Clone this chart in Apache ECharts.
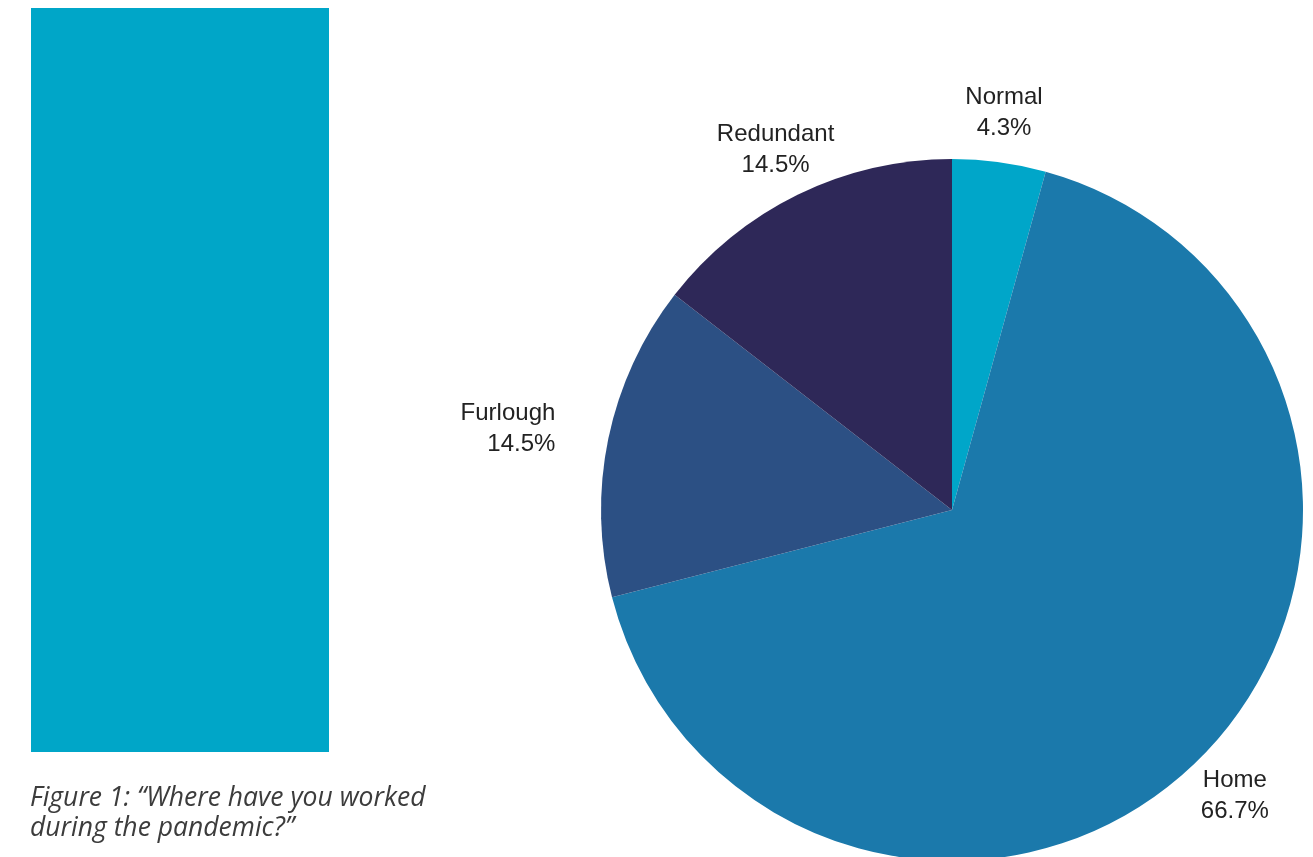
<!DOCTYPE html>
<html>
<head>
<meta charset="utf-8">
<title>Where have you worked during the pandemic?</title>
<script src="https://cdn.jsdelivr.net/npm/echarts@6/dist/echarts.min.js"></script>
<style>
  html, body { margin: 0; padding: 0; background: #ffffff; }
  #chart { width: 1313px; height: 857px; }
</style>
</head>
<body>
<div id="chart"></div>
<script>
// Survey answers, clockwise from 12 o'clock
const categories = ['Normal', 'Home', 'Furlough', 'Redundant'];
const shares = [4.3, 66.7, 14.5, 14.5];           // percent of respondents
const sliceColors = ['#00a6c9', '#1b79ab', '#2c5084', '#2e2858'];
const labelNudgeX = [-7, -3, 1, 5];               // fine horizontal placement of slice labels
const caption = 'Figure 1: \u201cWhere have you worked\nduring the pandemic?\u201d';

// Mid-angle of each slice (degrees clockwise from the top)
const total = shares.reduce((a, b) => a + b, 0);
const midAngles = [];
let acc = 0;
shares.forEach(v => { midAngles.push((acc + v / 2) / total * 360); acc += v; });

const chart = echarts.init(document.getElementById('chart'), null, { renderer: 'canvas' });

chart.setOption({
  backgroundColor: '#ffffff',
  animation: false,
  graphic: [
    {
      type: 'rect',
      shape: { x: 31, y: 8, width: 298, height: 744 },
      style: { fill: '#00a6c8' },
      silent: true
    },
    {
      type: 'text',
      x: 30, y: 783,
      style: {
        text: caption,
        fill: '#3c3c3c',
        font: 'italic 26.5px "Open Sans", sans-serif',
        lineHeight: 30
      },
      silent: true
    }
  ],
  series: [{
    type: 'pie',
    center: [952, 510],
    radius: [0, 351],
    startAngle: 90,
    clockwise: true,
    avoidLabelOverlap: false,
    itemStyle: { borderWidth: 0 },
    label: {
      show: true,
      position: 'outside',
      formatter: p => p.name + '\n' + p.value.toFixed(1) + '%',
      fontFamily: '"Liberation Sans", Arial, sans-serif',
      fontSize: 24,
      lineHeight: 31,
      color: '#222222',
      align: 'center'
    },
    labelLine: { show: false, length: 50, length2: 0 },
    // centre labels on their anchor unless the slice points sideways
    labelLayout: p => {
      const a = midAngles[p.dataIndex] * Math.PI / 180;
      const out = { dx: labelNudgeX[p.dataIndex] };
      if (Math.abs(Math.sin(a)) <= 0.9) out.align = 'center';
      return out;
    },
    data: categories.map((name, i) => ({
      name,
      value: shares[i],
      itemStyle: { color: sliceColors[i] }
    }))
  }]
});
</script>
</body>
</html>
